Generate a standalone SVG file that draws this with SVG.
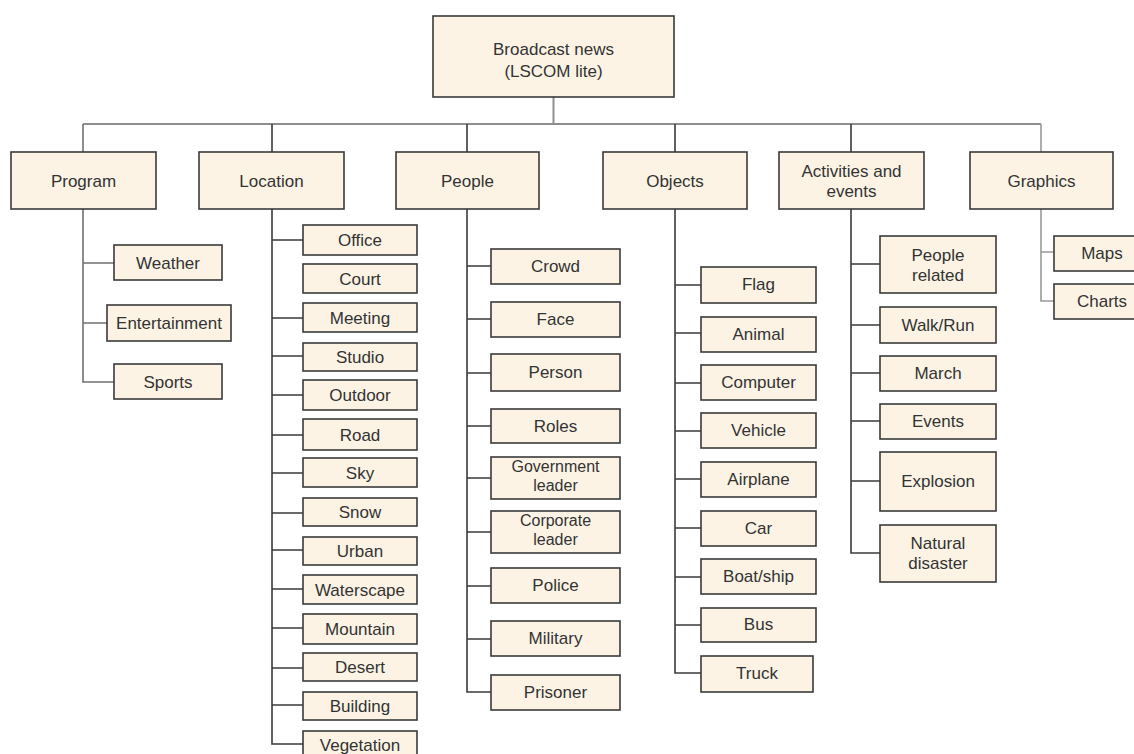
<svg xmlns="http://www.w3.org/2000/svg" width="1134" height="754" viewBox="0 0 1134 754">
<style>
.box{fill:#fcf3e5;stroke:#3a3a3a;stroke-width:1.6}
.t{font-family:"Liberation Sans",Arial,sans-serif;font-size:17px;fill:#333;text-anchor:middle}
.s{font-size:16px}
.c{fill:none;stroke:#3a3a3a;stroke-width:1.6}
.g{fill:none;stroke:#8e8e8e;stroke-width:2}
.lg{fill:none;stroke:#999;stroke-width:1.6}
.pg{fill:none;stroke:#707070;stroke-width:1.6}
</style>
<rect width="1134" height="754" fill="#fff"/>
<g id="connectors">
<path class="g" d="M553.5 97V124M83 124H1041"/>
<path class="c" d="M272 124V152M467 124V152M675 124V152M851 124V152"/>
<path class="pg" d="M83 124V152"/>
<path class="lg" d="M1041 124V152"/>
<path class="pg" d="M83 209V382H114M83 263H114M83 323H107"/>
<path class="c" d="M272 209V744H303M272 240H303M272 318H303M272 356H303M272 395H303M272 435H303M272 473H303M272 513H303M272 550H303M272 589H303M272 628H303M272 668H303M272 705H303"/>
<path class="c" d="M467 209V692H491M467 266H491M467 319H491M467 373H491M467 426H491M467 478H491M467 532H491M467 586H491M467 639H491"/>
<path class="c" d="M675 209V673H701M675 285H701M675 333H701M675 383H701M675 431H701M675 479H701M675 528H701M675 577H701M675 625H701"/>
<path class="c" d="M851 209V553H880M851 264H880M851 325H880M851 373H880M851 421H880M851 481H880"/>
<path class="lg" d="M1041 209V301H1054M1041 252H1054"/>
</g>
<g id="root"><rect class="box" x="433" y="16" width="241" height="81"/><text class="t" x="553.5" y="55">Broadcast news</text><text class="t" x="553.5" y="77">(LSCOM lite)</text></g>
<g id="program"><rect class="box" x="11" y="152" width="145" height="57"/><text class="t" x="83.5" y="187">Program</text></g>
<g id="location"><rect class="box" x="199" y="152" width="145" height="57"/><text class="t" x="271.5" y="187">Location</text></g>
<g id="people"><rect class="box" x="396" y="152" width="143" height="57"/><text class="t" x="467.5" y="187">People</text></g>
<g id="objects"><rect class="box" x="603" y="152" width="144" height="57"/><text class="t" x="675" y="187">Objects</text></g>
<g id="activities"><rect class="box" x="779" y="152" width="145" height="57"/><text class="t" x="851.5" y="177">Activities and</text><text class="t" x="851.5" y="197">events</text></g>
<g id="graphics"><rect class="box" x="970" y="152" width="143" height="57"/><text class="t" x="1041.5" y="187">Graphics</text></g>

<g id="weather"><rect class="box" x="114" y="245" width="108" height="35"/><text class="t" x="168" y="269">Weather</text></g>
<g id="entertainment"><rect class="box" x="107" y="305" width="124" height="36"/><text class="t" x="169" y="329">Entertainment</text></g>
<g id="sports"><rect class="box" x="114" y="364" width="108" height="35"/><text class="t" x="168" y="388">Sports</text></g>

<g id="office"><rect class="box" x="303" y="225" width="114" height="30"/><text class="t" x="360" y="246">Office</text></g>
<g id="court"><rect class="box" x="303" y="264" width="114" height="29"/><text class="t" x="360" y="285">Court</text></g>
<g id="meeting"><rect class="box" x="303" y="303" width="114" height="29"/><text class="t" x="360" y="324">Meeting</text></g>
<g id="studio"><rect class="box" x="303" y="343" width="114" height="28"/><text class="t" x="360" y="363">Studio</text></g>
<g id="outdoor"><rect class="box" x="303" y="380" width="114" height="30"/><text class="t" x="360" y="401">Outdoor</text></g>
<g id="road"><rect class="box" x="303" y="419" width="114" height="31"/><text class="t" x="360" y="441">Road</text></g>
<g id="sky"><rect class="box" x="303" y="458" width="114" height="29"/><text class="t" x="360" y="479">Sky</text></g>
<g id="snow"><rect class="box" x="303" y="498" width="114" height="28"/><text class="t" x="360" y="518">Snow</text></g>
<g id="urban"><rect class="box" x="303" y="537" width="114" height="28"/><text class="t" x="360" y="557">Urban</text></g>
<g id="waterscape"><rect class="box" x="303" y="575" width="114" height="29"/><text class="t" x="360" y="596">Waterscape</text></g>
<g id="mountain"><rect class="box" x="303" y="614" width="114" height="30"/><text class="t" x="360" y="635">Mountain</text></g>
<g id="desert"><rect class="box" x="303" y="653" width="114" height="28"/><text class="t" x="360" y="673">Desert</text></g>
<g id="building"><rect class="box" x="303" y="692" width="114" height="28"/><text class="t" x="360" y="712">Building</text></g>
<g id="vegetation"><rect class="box" x="303" y="731" width="114" height="30"/><text class="t" x="360" y="751">Vegetation</text></g>

<g id="crowd"><rect class="box" x="491" y="249" width="129" height="35"/><text class="t" x="555.5" y="272">Crowd</text></g>
<g id="face"><rect class="box" x="491" y="302" width="129" height="35"/><text class="t" x="555.5" y="325">Face</text></g>
<g id="person"><rect class="box" x="491" y="354" width="129" height="37"/><text class="t" x="555.5" y="378">Person</text></g>
<g id="roles"><rect class="box" x="491" y="409" width="129" height="34"/><text class="t" x="555.5" y="432">Roles</text></g>
<g id="government"><rect class="box" x="491" y="457" width="129" height="42"/><text class="t s" x="555.5" y="472">Government</text><text class="t s" x="555.5" y="491">leader</text></g>
<g id="corporate"><rect class="box" x="491" y="511" width="129" height="42"/><text class="t s" x="555.5" y="526">Corporate</text><text class="t s" x="555.5" y="545">leader</text></g>
<g id="police"><rect class="box" x="491" y="568" width="129" height="35"/><text class="t" x="555.5" y="591">Police</text></g>
<g id="military"><rect class="box" x="491" y="621" width="129" height="35"/><text class="t" x="555.5" y="644">Military</text></g>
<g id="prisoner"><rect class="box" x="491" y="675" width="129" height="35"/><text class="t" x="555.5" y="698">Prisoner</text></g>

<g id="flag"><rect class="box" x="701" y="267" width="115" height="36"/><text class="t" x="758.5" y="290">Flag</text></g>
<g id="animal"><rect class="box" x="701" y="317" width="115" height="35"/><text class="t" x="758.5" y="340">Animal</text></g>
<g id="computer"><rect class="box" x="701" y="365" width="115" height="35"/><text class="t" x="758.5" y="388">Computer</text></g>
<g id="vehicle"><rect class="box" x="701" y="413" width="115" height="35"/><text class="t" x="758.5" y="436">Vehicle</text></g>
<g id="airplane"><rect class="box" x="701" y="462" width="115" height="35"/><text class="t" x="758.5" y="485">Airplane</text></g>
<g id="car"><rect class="box" x="701" y="511" width="115" height="35"/><text class="t" x="758.5" y="534">Car</text></g>
<g id="boat"><rect class="box" x="701" y="559" width="115" height="35"/><text class="t" x="758.5" y="582">Boat/ship</text></g>
<g id="bus"><rect class="box" x="701" y="608" width="115" height="34"/><text class="t" x="758.5" y="630">Bus</text></g>
<g id="truck"><rect class="box" x="701" y="656" width="112" height="36"/><text class="t" x="757" y="679">Truck</text></g>

<g id="peoplerelated"><rect class="box" x="880" y="236" width="116" height="57"/><text class="t" x="938" y="261">People</text><text class="t" x="938" y="281">related</text></g>
<g id="walkrun"><rect class="box" x="880" y="307" width="116" height="36"/><text class="t" x="938" y="331">Walk/Run</text></g>
<g id="march"><rect class="box" x="880" y="356" width="116" height="35"/><text class="t" x="938" y="379">March</text></g>
<g id="events"><rect class="box" x="880" y="404" width="116" height="35"/><text class="t" x="938" y="427">Events</text></g>
<g id="explosion"><rect class="box" x="880" y="452" width="116" height="59"/><text class="t" x="938" y="487">Explosion</text></g>
<g id="natural"><rect class="box" x="880" y="525" width="116" height="57"/><text class="t" x="938" y="549">Natural</text><text class="t" x="938" y="569">disaster</text></g>

<g id="maps"><rect class="box" x="1054" y="236" width="96" height="35"/><text class="t" x="1102" y="259">Maps</text></g>
<g id="charts"><rect class="box" x="1054" y="284" width="96" height="35"/><text class="t" x="1102" y="307">Charts</text></g>
</svg>
